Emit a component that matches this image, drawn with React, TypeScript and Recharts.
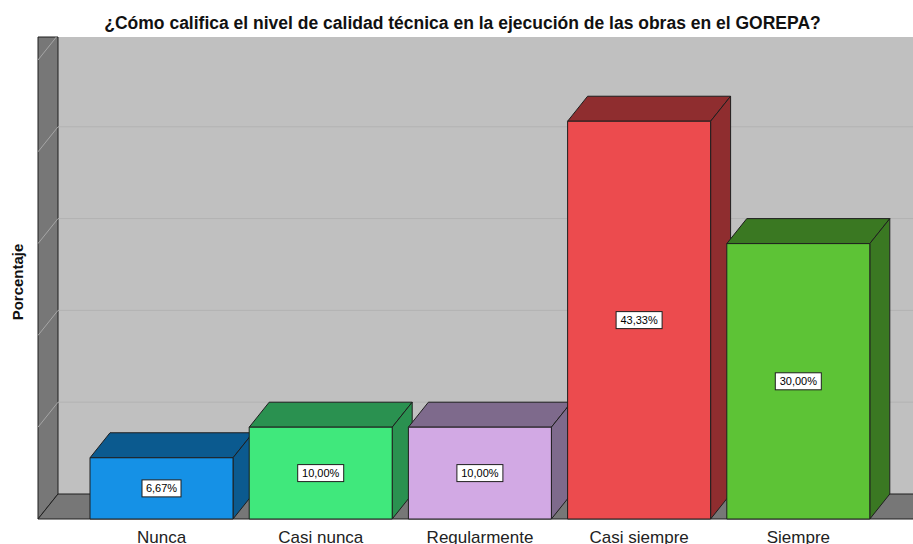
import React from 'react';
import { BarChart, Bar, XAxis, YAxis, ReferenceArea, ReferenceLine, LabelList } from 'recharts';

const categories = ['Nunca', 'Casi nunca', 'Regularmente', 'Casi siempre', 'Siempre'];
const percentages = [6.67, 10.0, 10.0, 43.33, 30.0];
const gridTicks = [10, 20, 30, 40];
const yMax = 50;

const title = '¿Cómo califica el nivel de calidad técnica en la ejecución de las obras en el GOREPA?';
const yLabel = 'Porcentaje';

// front / top-and-side colours per bar
const frontColors = ['#1591e6', '#40e87c', '#d2a9e4', '#ec4b4e', '#5dc336'];
const darkColors = ['#0b5a8f', '#2a9150', '#7e6a8c', '#8f2d2f', '#3a7822'];

const DX = 20; // depth offset
const DY = 25;
const LEFT_GAP = 44; // distance from left wall to first band
const FONT = '"Liberation Sans", Arial, sans-serif';

const data = categories.map((name, i) => ({ name, value: percentages[i] }));

const Room = (props: any) => {
  const { x, y, width, height } = props;
  const L = x - LEFT_GAP;
  const bottom = y + height;
  const top = y - DY + 2;
  const right = x + width + 100;
  return (
    <g>
      <rect x={L + DX} y={top} width={right - L - DX} height={bottom - DY - top} fill="#c0c0c0" />
      <polygon
        points={`${L},${top} ${L + DX},${top} ${L + DX},${bottom - DY} ${L},${bottom}`}
        fill="#777777"
        stroke="#1e1e1e"
        strokeWidth={1}
      />
      <polygon
        points={`${L},${bottom} ${right},${bottom} ${right},${bottom - DY} ${L + DX},${bottom - DY}`}
        fill="#777777"
        stroke="#1e1e1e"
        strokeWidth={1}
      />
    </g>
  );
};

const GridLine = (props: any) => {
  const { x1, y1, x2 } = props;
  const L = x1 - LEFT_GAP;
  return (
    <g>
      <line x1={L + DX} y1={y1 - DY} x2={x2 + 100} y2={y1 - DY} stroke="#b2b2b2" strokeWidth={1} />
      <line x1={L} y1={y1} x2={L + DX} y2={y1 - DY} stroke="#a6a6a6" strokeWidth={1} />
    </g>
  );
};

const TopDiagonal = (props: any) => {
  const { x1, y1 } = props;
  const L = x1 - LEFT_GAP;
  return <line x1={L} y1={y1} x2={L + DX * 0.92} y2={y1 - DY * 0.92} stroke="#a6a6a6" strokeWidth={1} />;
};

const Bar3D = (props: any) => {
  const { x, y, width, height, index } = props;
  const front = frontColors[index];
  const dark = darkColors[index];
  const r = x + width;
  const b = y + height;
  return (
    <g stroke="#1e1e1e" strokeWidth={1} strokeLinejoin="round">
      <polygon points={`${x},${y} ${x + DX},${y - DY} ${r + DX},${y - DY} ${r},${y}`} fill={dark} />
      <polygon points={`${r},${y} ${r + DX},${y - DY} ${r + DX},${b - DY} ${r},${b}`} fill={dark} />
      <rect x={x} y={y} width={width} height={height} fill={front} />
    </g>
  );
};

const ValueLabel = (props: any) => {
  const { x, y, width, height, value } = props;
  const text = `${Number(value).toFixed(2).replace('.', ',')}%`;
  const w = text.length * 7 + 4;
  const h = 17;
  const cx = x + width / 2;
  const cy = y + height / 2;
  return (
    <g>
      <rect x={cx - w / 2} y={cy - h / 2} width={w} height={h} fill="#ffffff" stroke="#1e1e1e" strokeWidth={1} />
      <text x={cx} y={cy + 4} textAnchor="middle" fontSize={11} fontFamily={FONT} fill="#000">
        {text}
      </text>
    </g>
  );
};

export default function App() {
  return (
    <div style={{ position: 'absolute', left: 0, top: 0, width: 913, height: 544, background: '#fff' }}>
      <div
        style={{
          position: 'absolute',
          left: 0,
          top: 13,
          width: 925,
          textAlign: 'center',
          fontFamily: FONT,
          fontWeight: 'bold',
          fontSize: 17.5,
          lineHeight: '20px',
          color: '#111',
          whiteSpace: 'nowrap',
        }}
      >
        {title}
      </div>
      <div
        style={{
          position: 'absolute',
          left: -42,
          top: 272,
          width: 120,
          height: 20,
          lineHeight: '20px',
          textAlign: 'center',
          transform: 'rotate(-90deg)',
          fontFamily: FONT,
          fontWeight: 'bold',
          fontSize: 15,
          color: '#111',
        }}
      >
        {yLabel}
      </div>
      <BarChart
        width={913}
        height={544}
        data={data}
        margin={{ top: 60, right: 35, left: 82, bottom: 0 }}
        barSize={143}
        style={{ position: 'absolute', left: 0, top: 0 }}
      >
        <XAxis
          dataKey="name"
          height={25}
          axisLine={false}
          tickLine={false}
          tickSize={0}
          tickMargin={12}
          interval={0}
          tick={{ fill: '#222', fontSize: 17, fontFamily: FONT }}
        />
        <YAxis hide width={0} domain={[0, yMax]} ticks={[0, ...gridTicks, yMax]} />
        <ReferenceArea y1={0} y2={yMax} shape={Room} ifOverflow="visible" zIndex={-300} />
        {gridTicks.map((t) => (
          <ReferenceLine key={t} y={t} shape={GridLine} ifOverflow="visible" zIndex={-200} />
        ))}
        <ReferenceLine y={yMax} shape={TopDiagonal} ifOverflow="visible" zIndex={-200} />
        <Bar dataKey="value" shape={Bar3D} isAnimationActive={false}>
          <LabelList dataKey="value" content={ValueLabel} />
        </Bar>
      </BarChart>
    </div>
  );
}
